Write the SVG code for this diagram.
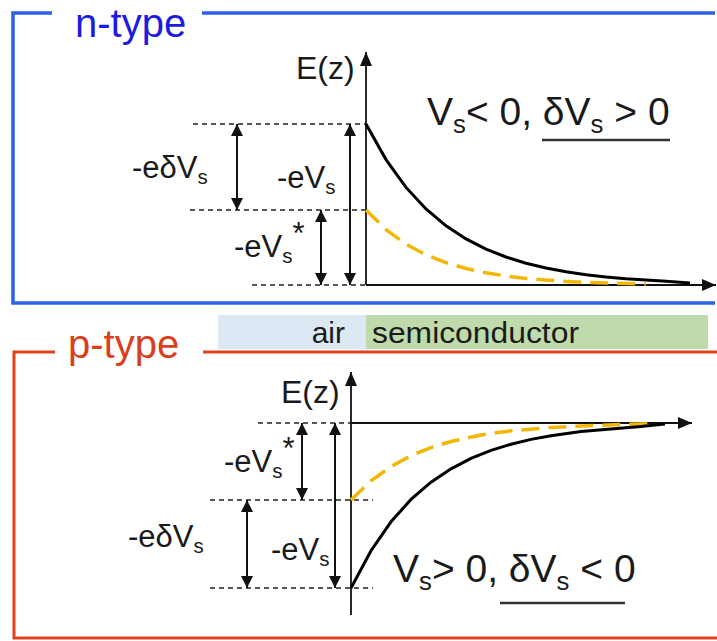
<svg xmlns="http://www.w3.org/2000/svg" width="717" height="641" viewBox="0 0 717 641">
<style>
text{font-family:"Liberation Sans",Arial,sans-serif;fill:#1a1a1a}
.lbl{font-size:31px}
.ez{font-size:32px}
.stmt{font-size:39px}
.sub{font-size:0.66em}
.dash{stroke:#222;stroke-width:1.5;stroke-dasharray:5 4;fill:none}
.dim{stroke:#111;stroke-width:2;fill:none;marker-start:url(#ah);marker-end:url(#ah)}
.axis{stroke:#111;stroke-width:1.8;fill:none;marker-end:url(#ax)}
.cb{stroke:#000;stroke-width:3;fill:none}
.cy{stroke:#f2b705;stroke-width:3.5;stroke-dasharray:18 9;fill:none}
.blue{stroke:#2d62e6;stroke-width:3.5;fill:none}
.red{stroke:#e0401c;stroke-width:3;fill:none}
.ul{stroke:#333;stroke-width:2.5}
</style>
<defs>
<marker id="ah" markerUnits="userSpaceOnUse" markerWidth="12" markerHeight="12" refX="12" refY="6" orient="auto-start-reverse"><path d="M0,0 L12,6 L0,12 z" fill="#111"/></marker>
<marker id="ax" markerUnits="userSpaceOnUse" markerWidth="14" markerHeight="12" refX="14" refY="6" orient="auto"><path d="M0,0 L14,6 L0,12 z" fill="#111"/></marker>
</defs>

<g id="frame-n">
<path class="blue" d="M52,13 H13 V303 H715"/>
<path class="blue" d="M202,13 H715"/>
<text x="75" y="37" style="font-size:40px;fill:#1c1ce0">n-type</text>
</g>

<g id="frame-p">
<path class="red" d="M55,352 H14 V638 H717"/>
<path class="red" d="M203,352 H717"/>
<text x="68" y="358" style="font-size:40px;fill:#d8401c">p-type</text>
</g>

<g id="bar">
<rect x="218" y="315" width="148" height="34" fill="#dce8f4"/>
<rect x="366" y="315" width="342" height="34" fill="#bfdaab"/>
<text x="345" y="343" text-anchor="end" style="font-size:30px">air</text>
<text x="372" y="343" style="font-size:30px" textLength="207" lengthAdjust="spacingAndGlyphs">semiconductor</text>
</g>

<g id="connectors">
<path class="dash" d="M193,124 H366 M190,210 H366 M252,285 H366"/>
<path class="axis" d="M366,285 V52"/>
<path class="axis" d="M366,285 H716"/>
<path class="dim" d="M237,124 V210"/>
<path class="dim" d="M350,124 V285"/>
<path class="dim" d="M321,210 V285"/>
<polyline class="cy" points="366,210 386,229.6 406,244.1 426,254.8 446,262.7 466,268.5 486,272.8 506,276 526,278.4 546,280.1 576,281.9 606,283 646,283.9"/>
<polyline class="cb" points="366,124 386,159.6 406,187.4 426,208.9 446,225.8 466,238.9 486,249.1 506,257 526,263.2 546,268 566,271.8 586,274.7 606,277 626,278.8 646,280.1 666,281.2 690,283"/>
<path class="dash" d="M258,423 H372 M210,500 H373 M210,588 H373"/>
<path class="axis" d="M351,615 V372"/>
<path class="axis" d="M351,423 H692"/>
<path class="dim" d="M302,423 V500"/>
<path class="dim" d="M247,500 V588"/>
<path class="dim" d="M335,423 V588"/>
<polyline class="cy" points="351,500 371,480.9 391,466.5 411,455.7 431,447.6 451,441.5 481,435 511,430.8 551,427.4 601,425.2 655,423.5"/>
<polyline class="cb" points="351,588 371,550.7 391,521.8 411,499.4 431,482.2 451,468.8 471,458.4 491,450.4 511,444.2 531,439.4 551,435.7 581,431.6 611,428.9 641,426.5 665,424"/>
</g>

<g id="labels-n">
<text class="ez" x="296" y="79">E(z)</text>
<text class="lbl" x="132" y="178">-eδV<tspan class="sub" dy="6">s</tspan></text>
<text class="lbl" x="277" y="188">-eV<tspan class="sub" dy="6">s</tspan></text>
<text class="lbl" x="234" y="257">-eV<tspan class="sub" dy="6">s</tspan><tspan dy="-19">*</tspan></text>
<text class="stmt" x="427" y="125">V<tspan class="sub" dy="8">s</tspan><tspan dy="-8">&lt; 0, δV</tspan><tspan class="sub" dy="8">s</tspan><tspan dy="-8"> &gt; 0</tspan></text>
<line class="ul" x1="542" y1="140" x2="670" y2="140"/>
</g>

<g id="labels-p">
<text class="ez" x="281" y="403">E(z)</text>
<text class="lbl" x="224" y="472">-eV<tspan class="sub" dy="6">s</tspan><tspan dy="-19">*</tspan></text>
<text class="lbl" x="128" y="547">-eδV<tspan class="sub" dy="6">s</tspan></text>
<text class="lbl" x="271" y="560">-eV<tspan class="sub" dy="6">s</tspan></text>
<text class="stmt" x="393" y="582">V<tspan class="sub" dy="8">s</tspan><tspan dy="-8">&gt; 0, δV</tspan><tspan class="sub" dy="8">s</tspan><tspan dy="-8"> &lt; 0</tspan></text>
<line class="ul" x1="500" y1="603" x2="625" y2="603"/>
</g>
</svg>
